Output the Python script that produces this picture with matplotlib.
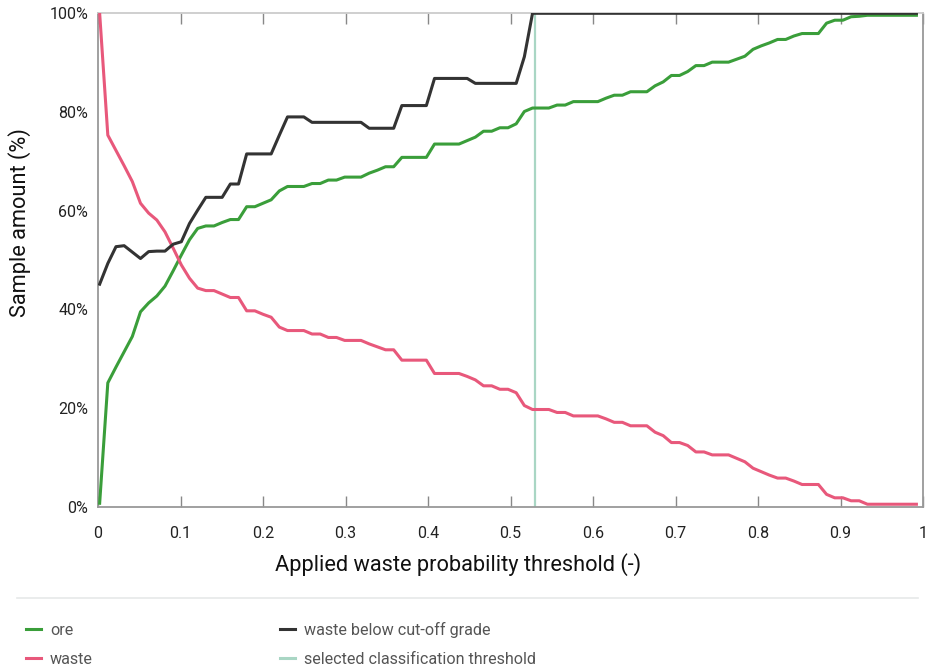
import numpy as np
import matplotlib.pyplot as plt
from matplotlib.lines import Line2D

# threshold grid (101 steps)
threshold = np.linspace(0.002, 0.992, 101)

ore = [0.7, 25.1, 28.3, 31.4, 34.5, 39.5, 41.3, 42.7, 44.7, 47.8,
       51.0, 54.1, 56.4, 56.9, 56.9, 57.6, 58.2, 58.2, 60.8, 60.8,
       61.5, 62.2, 64.0, 64.9, 64.9, 64.9, 65.5, 65.5, 66.2, 66.2,
       66.8, 66.8, 66.8, 67.6, 68.2, 68.9, 68.9, 70.8, 70.8, 70.8,
       70.8, 73.5, 73.5, 73.5, 73.5, 74.2, 74.9, 76.1, 76.1, 76.8,
       76.8, 77.6, 80.1, 80.8, 80.8, 80.8, 81.4, 81.4, 82.1, 82.1,
       82.1, 82.1, 82.8, 83.4, 83.4, 84.1, 84.1, 84.1, 85.3, 86.1,
       87.4, 87.4, 88.2, 89.4, 89.4, 90.1, 90.1, 90.1, 90.7, 91.3,
       92.7, 93.4, 94.0, 94.7, 94.7, 95.4, 95.9, 95.9, 95.9, 98.0,
       98.6, 98.6, 99.3, 99.4, 99.6, 99.6, 99.6, 99.6, 99.6, 99.6,
       99.6]

waste = [100.0, 75.3, 72.2, 69.1, 65.9, 61.5, 59.5, 58.1, 55.7, 52.4,
         49.0, 46.3, 44.3, 43.8, 43.8, 43.1, 42.4, 42.4, 39.7, 39.7,
         39.0, 38.4, 36.4, 35.7, 35.7, 35.7, 35.0, 35.0, 34.3, 34.3,
         33.7, 33.7, 33.7, 33.0, 32.4, 31.8, 31.8, 29.7, 29.7, 29.7,
         29.7, 27.0, 27.0, 27.0, 27.0, 26.4, 25.7, 24.5, 24.5, 23.8,
         23.8, 23.1, 20.5, 19.7, 19.7, 19.7, 19.1, 19.1, 18.4, 18.4,
         18.4, 18.4, 17.8, 17.1, 17.1, 16.4, 16.4, 16.4, 15.1, 14.4,
         13.0, 13.0, 12.4, 11.1, 11.1, 10.5, 10.5, 10.5, 9.8, 9.1,
         7.8, 7.1, 6.4, 5.8, 5.8, 5.2, 4.5, 4.5, 4.5, 2.5,
         1.8, 1.8, 1.2, 1.2, 0.5, 0.5, 0.5, 0.5, 0.5, 0.5,
         0.5]

waste_below_cutoff = [45.1, 49.3, 52.7, 52.9, 51.6, 50.3, 51.7, 51.8, 51.8, 53.2,
                      53.7, 57.4, 60.1, 62.7, 62.7, 62.7, 65.4, 65.4, 71.5, 71.5,
                      71.5, 71.5, 75.3, 79.0, 79.0, 79.0, 77.9, 77.9, 77.9, 77.9,
                      77.9, 77.9, 77.9, 76.7, 76.7, 76.7, 76.7, 81.3, 81.3, 81.3,
                      81.3, 86.8, 86.8, 86.8, 86.8, 86.8, 85.8, 85.8, 85.8, 85.8,
                      85.8, 85.8, 91.2, 100, 100, 100, 100, 100, 100, 100,
                      100, 100, 100, 100, 100, 100, 100, 100, 100, 100,
                      100, 100, 100, 100, 100, 100, 100, 100, 100, 100,
                      100, 100, 100, 100, 100, 100, 100, 100, 100, 100,
                      100, 100, 100, 100, 100, 100, 100, 100, 100, 100,
                      100]

selected_threshold = 0.53

x_ticks = [0, 0.1, 0.2, 0.3, 0.4, 0.5, 0.6, 0.7, 0.8, 0.9, 1]
x_ticklabels = ['0', '0.1', '0.2', '0.3', '0.4', '0.5', '0.6', '0.7', '0.8', '0.9', '1']
y_ticks = [0, 20, 40, 60, 80, 100]
y_ticklabels = ['0%', '20%', '40%', '60%', '80%', '100%']

c_ore = '#3a9e3a'
c_waste = '#e8587b'
c_black = '#333333'
c_thresh = '#a9d6c4'

plt.rcParams['font.family'] = ['Roboto', 'DejaVu Sans']

fig = plt.figure(figsize=(9.29, 6.71), dpi=100)
ax = fig.add_axes([98 / 929, 1 - 506.7 / 671, 825 / 929, 493.4 / 671])

ax.axvline(selected_threshold, color=c_thresh, lw=1.6, zorder=1)
ax.plot(threshold, ore, color=c_ore, lw=2.2, zorder=3)
ax.plot(threshold, waste, color=c_waste, lw=2.2, zorder=3)
ax.plot(threshold, waste_below_cutoff, color=c_black, lw=2.2, zorder=4)

ax.set_xlim(0, 1)
ax.set_ylim(0, 100)
ax.set_xticks(x_ticks)
ax.set_xticklabels(x_ticklabels)
ax.set_yticks(y_ticks)
ax.set_yticklabels(y_ticklabels)
ax.tick_params(axis='x', direction='in', length=8, width=1, color='#888888',
               labelsize=11.5, labelcolor='#222222', pad=14, top=True)
ax.tick_params(axis='y', length=0, labelsize=11.5, labelcolor='#222222', pad=7)
for side in ['left', 'bottom', 'right']:
    ax.spines[side].set_color('#999999')
    ax.spines[side].set_linewidth(1.3)
ax.spines['top'].set_color('#cccccc')
ax.spines['top'].set_linewidth(1.3)

# axis titles sit centred on the figure, not on the axes
fig.text(458.5 / 929, 1 - 565 / 671, 'Applied waste probability threshold (-)',
         fontsize=15.7, color='#111111', ha='center', va='center')
fig.text(20 / 929, 1 - 223 / 671, 'Sample amount (%)', rotation=90,
         fontsize=15.7, color='#111111', ha='center', va='center')

# separator above legend
fig.add_artist(Line2D([17 / 929, 918 / 929], [1 - 598 / 671] * 2,
                      color='#e6e9e9', lw=1.2))

handles = [Line2D([], [], color=c_ore, lw=2.2),
           Line2D([], [], color=c_waste, lw=2.2),
           Line2D([], [], color=c_black, lw=2.2),
           Line2D([], [], color=c_thresh, lw=2.2)]
labels = ['ore', 'waste', 'waste below cut-off grade', 'selected classification threshold']
leg = fig.legend(handles, labels, ncol=2, loc='upper left',
                 bbox_to_anchor=(12 / 929, 1 - 607 / 671), frameon=False,
                 fontsize=11.6, handlelength=0.9, handletextpad=0.55,
                 columnspacing=11.65, labelspacing=0.9)
for t in leg.get_texts():
    t.set_color('#555555')

fig.savefig('out.png', dpi=100)
